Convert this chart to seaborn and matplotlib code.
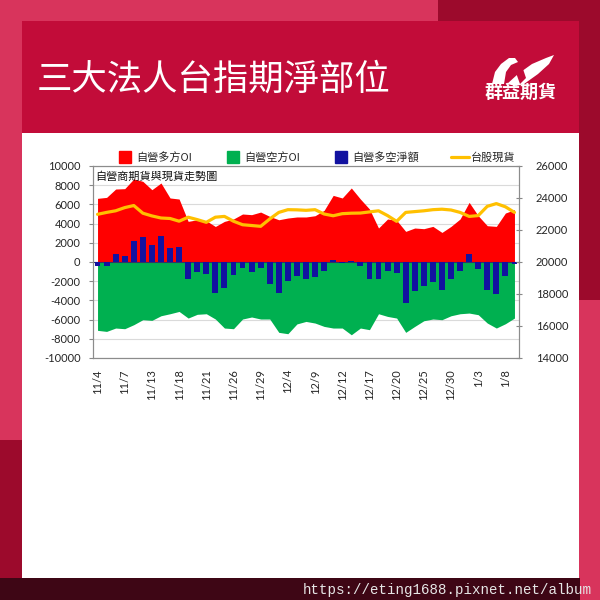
import numpy as np
import pandas as pd
import matplotlib
matplotlib.use("Agg")
import matplotlib.pyplot as plt
from matplotlib.patches import Rectangle, Polygon
from matplotlib.lines import Line2D
import seaborn as sns

# ---------------- data ----------------
dates = ["11/4", "11/5", "11/6", "11/7", "11/8", "11/11", "11/13", "11/14", "11/15",
         "11/18", "11/19", "11/20", "11/21", "11/22", "11/25", "11/26", "11/27", "11/28",
         "11/29", "12/2", "12/3", "12/4", "12/5", "12/6", "12/9", "12/10", "12/11",
         "12/12", "12/13", "12/16", "12/17", "12/18", "12/19", "12/20", "12/23", "12/24",
         "12/25", "12/26", "12/27", "12/30", "12/31", "1/2", "1/3", "1/6", "1/7", "1/8", "1/9"]

long_oi = [6630, 6730, 7600, 7640, 8650, 8400, 7530, 8230, 6670, 6560, 4230, 4400, 4300,
           3700, 4230, 4480, 5000, 4930, 5200, 4750, 4400, 4580, 4690, 4690, 4820, 5380,
           6940, 6670, 7710, 6560, 5520, 3540, 4480, 4340, 3190, 3540, 3470, 3710, 3080,
           3710, 4480, 6210, 4820, 3780, 3710, 5100, 5450]

short_oi = [-7120, -7230, -6880, -6950, -6530, -6010, -6080, -5600, -5390, -5150, -5840,
            -5450, -5390, -5940, -6880, -6950, -5940, -5730, -5940, -5940, -7330, -7470,
            -6450, -6190, -6360, -6710, -6880, -6880, -7580, -6880, -7050, -5390, -5670,
            -5840, -7330, -6710, -6120, -5940, -6010, -5600, -5390, -5320, -5490, -6360,
            -6880, -6430, -5840]

net_oi = [-450, -450, 850, 650, 2200, 2650, 1800, 2700, 1450, 1550, -1750, -1050, -1250,
          -3250, -2700, -1350, -650, -1000, -650, -2250, -3200, -1950, -1500, -1750, -1600,
          -900, 250, -100, 100, -400, -1750, -1750, -950, -1100, -4250, -3000, -2550, -2100,
          -2900, -1800, -900, 850, -750, -2900, -3350, -1450, -250]

taiex = [22980, 23100, 23200, 23400, 23530, 23050, 22880, 22750, 22720, 22550, 22800,
         22650, 22480, 22800, 22850, 22550, 22330, 22280, 22230, 22690, 23100, 23270,
         23260, 23230, 23270, 23000, 22890, 23020, 23050, 23060, 23130, 23200, 22900,
         22540, 23100, 23150, 23200, 23270, 23300, 23250, 23100, 22850, 22900, 23480,
         23650, 23450, 23100]

left_ticks = list(range(-10000, 10001, 2000))
right_ticks = list(range(14000, 26001, 2000))

legend_labels = ["自營多方OI", "自營空方OI", "自營多空淨額", "台股現貨"]
title_text = "三大法人台指期淨部位"
chart_title = "自營商期貨與現貨走勢圖"
brand_text = "群益期貨"
url_text = "https://eting1688.pixnet.net/album"

# ---------------- style ----------------
sns.set_style("white")
plt.rcParams["font.family"] = ["Noto Sans CJK TC", "DejaVu Sans"]

W = H = 600
fig = plt.figure(figsize=(6, 6), dpi=100)
fig.patch.set_facecolor("#D8345C")


def rect(x0, y0, x1, y1, c, z=-10):
    fig.add_artist(Rectangle((x0 / W, 1 - y1 / H), (x1 - x0) / W, (y1 - y0) / H,
                             transform=fig.transFigure, facecolor=c, edgecolor="none",
                             zorder=z))


def poly(pts, c, z=-5):
    fig.add_artist(Polygon([(x / W, 1 - y / H) for x, y in pts], closed=True,
                           transform=fig.transFigure, facecolor=c, edgecolor="none",
                           zorder=z))


# background blocks
rect(438, 0, 600, 22, "#9C0A2C")
rect(579, 0, 600, 300, "#9C0A2C")
rect(0, 440, 22, 578, "#9C0A2C")
rect(0, 578, 580, 600, "#3E0615")
rect(22, 21, 579, 133, "#C20C39", z=-9)
rect(22, 133, 579, 578, "#FFFFFF", z=-9)

# title
fig.text(37 / W, 1 - 80 / H, title_text, color="white", fontsize=25.5,
         ha="left", va="center")

# logo
poly([(492, 84), (495, 72), (501, 64), (509, 58), (515, 58), (518, 62), (511, 65),
      (506, 72), (504, 84)], "white")
poly([(507, 84), (518, 74), (532, 64), (546, 58), (554, 55), (549, 64), (538, 74),
      (524, 84), (516, 86)], "white")
poly([(515, 70), (522, 66), (526, 78), (520, 84)], "#C20C39", z=-4)
fig.text(521 / W, 1 - 92 / H, brand_text, color="white", fontsize=13,
         fontweight="bold", ha="center", va="center")

# url
fig.text(592 / W, 1 - 590 / H, url_text, color="#E6E6E6", fontsize=10.2,
         family="Liberation Mono", ha="right", va="center")

# ---------------- chart ----------------
ax = fig.add_axes([93 / W, 1 - 358 / H, 426 / W, 192 / H])
ax.set_facecolor("white")
n = len(dates)
xs = np.arange(n)
df = pd.DataFrame({"date": dates, "net": net_oi})

ax.fill_between(xs, 0, long_oi, color="#FF0000", linewidth=0, zorder=1)
ax.fill_between(xs, short_oi, 0, color="#00B050", linewidth=0, zorder=1)
sns.barplot(data=df, x="date", y="net", color="#1212A0", saturation=1, width=0.65,
            ax=ax, zorder=3, edgecolor="none", linewidth=0)
ax.axhline(0, color="#333366", linewidth=0.8, zorder=2.5)

ax.set_xlim(-0.5, n - 0.5)
ax.set_ylim(-10000, 10000)
ax.set_yticks(left_ticks)
ax.set_yticklabels([str(v) for v in left_ticks], family="Lato", fontsize=8)
ax.set_xticks(xs[::3])
ax.set_xticklabels(dates[::3], rotation=90, family="Lato", fontsize=8)
ax.set_xlabel("")
ax.set_ylabel("")
ax.yaxis.grid(True, color="#DADADA", linewidth=0.8)
ax.set_axisbelow(True)
ax.tick_params(axis="x", length=0, pad=8)
ax.tick_params(axis="y", length=3, color="#888888", pad=6, direction="out")
for s in ax.spines.values():
    s.set_color("#8C8C8C")
    s.set_linewidth(0.8)

ax2 = ax.twinx()
sns.lineplot(x=xs, y=taiex, ax=ax2, color="#FFC000", linewidth=2.3)
ax2.set_ylim(14000, 26000)
ax2.set_yticks(right_ticks)
ax2.set_yticklabels([str(v) for v in right_ticks], family="Lato", fontsize=8)
ax2.tick_params(axis="y", length=4, color="#888888", pad=10, direction="inout")
ax2.set_ylabel("")
for s in ax2.spines.values():
    s.set_color("#8C8C8C")
    s.set_linewidth(0.8)

# chart title inside plot
fig.text(95 / W, 1 - 177 / H, chart_title, fontsize=8, ha="left", va="center",
         color="#111111")

# legend
handles = [Line2D([], [], marker="s", linestyle="", markersize=8, color="#FF0000"),
           Line2D([], [], marker="s", linestyle="", markersize=8, color="#00B050"),
           Line2D([], [], marker="s", linestyle="", markersize=8, color="#1212A0"),
           Line2D([], [], color="#FFC000", linewidth=2.3)]
fig.legend(handles, legend_labels, loc="center", bbox_to_anchor=(316 / W, 1 - 157 / H),
           ncol=4, frameon=False, fontsize=8, handlelength=1.6, handletextpad=0.2,
           columnspacing=2.9, borderaxespad=0)

fig.savefig("out.png", dpi=100, facecolor=fig.get_facecolor())
